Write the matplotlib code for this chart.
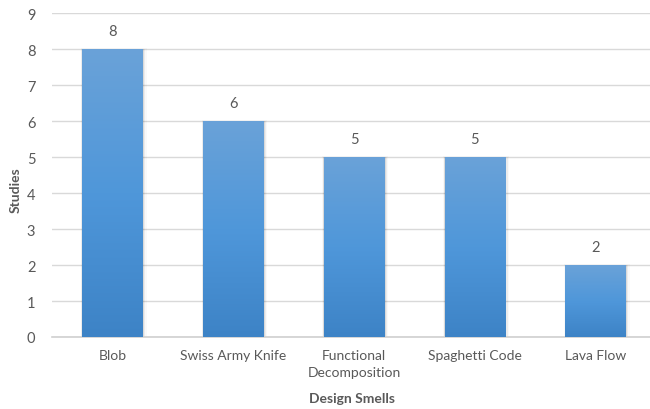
import matplotlib
matplotlib.use("Agg")
import matplotlib.pyplot as plt
import numpy as np
from matplotlib.colors import LinearSegmentedColormap

categories = ["Blob", "Swiss Army Knife", "Functional\nDecomposition", "Spaghetti Code", "Lava Flow"]
studies = [8, 6, 5, 5, 2]
yticks = list(range(0, 10))

plt.rcParams['font.family'] = ['Lato', 'DejaVu Sans']
txt = '#595959'

fig = plt.figure(figsize=(6.5, 4.1), dpi=100)
ax = fig.add_axes([52/650, 72/410, 604/650, 324/410])

x = np.arange(len(categories))
bw = 0.5
cmap = LinearSegmentedColormap.from_list('g', ['#3d83c6', '#4f97da', '#6aa2d8'])
grad = np.linspace(0, 1, 256).reshape(-1, 1)

bars = ax.bar(x, studies, width=bw, color='none', edgecolor='none', zorder=3)
for b in bars:
    x0, w, h = b.get_x(), b.get_width(), b.get_height()
    # soft shadow
    for i, a in enumerate([0.08, 0.05, 0.025]):
        d = 0.012 * (i + 1)
        ax.add_patch(plt.Rectangle((x0 - d * 0.3, 0), w + d * 1.2, h + d * 0.5,
                                   facecolor='black', alpha=a, edgecolor='none', zorder=2))
    ax.imshow(grad, extent=(x0, x0 + w, 0, h), origin='lower', cmap=cmap,
              aspect='auto', zorder=3, interpolation='bicubic')
    ax.text(x0 + w / 2, h + 0.3, f"{int(h)}", ha='center', va='bottom',
            fontsize=10.5, color=txt, zorder=4)

ax.set_xlim(-0.5, len(categories) - 0.5)
ax.set_ylim(0, 9)
ax.set_yticks(yticks)
ax.set_yticklabels([str(t) for t in yticks], fontsize=10.5, color=txt)
ax.set_xticks(x)
ax.set_xticklabels(categories, fontsize=10, color=txt, linespacing=1.45)
ax.tick_params(axis='both', length=0, pad=9)
ax.tick_params(axis='y', pad=12)
ax.grid(axis='y', color='#d9d9d9', linewidth=1, zorder=0)
ax.set_axisbelow(True)
for s in ['top', 'right', 'left']:
    ax.spines[s].set_visible(False)
ax.spines['bottom'].set_color('#d0d0d0')
ax.spines['bottom'].set_linewidth(1.2)

fig.text(16/650, 1 - 190/410, "Studies", rotation=90, ha='center', va='center',
         fontsize=10, fontweight='bold', color=txt)
fig.text(352/650, 1 - 399/410, "Design Smells", ha='center', va='center',
         fontsize=10, fontweight='bold', color=txt)

fig.savefig("out.png", dpi=100)
